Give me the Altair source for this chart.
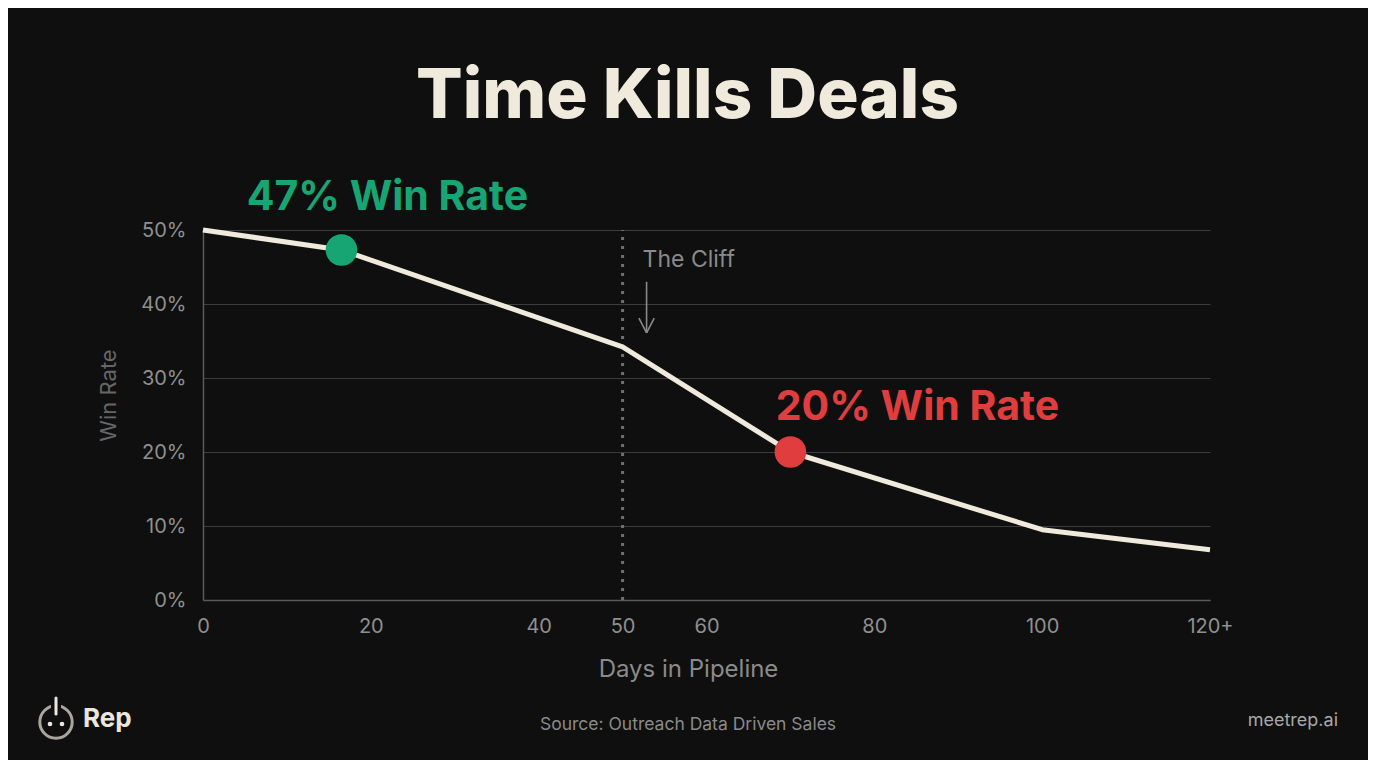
import altair as alt
import pandas as pd

# ---- data ----
days = [0, 16.5, 50, 70, 100, 120]
win_rate = [50, 47.3, 34.2, 20, 9.5, 6.8]

hl_days = [16.5, 70]
hl_rate = [47.3, 20]
hl_label = ["47% Win Rate", "20% Win Rate"]
hl_color = ["#17a673", "#e03e3e"]

x_ticks = [0, 20, 40, 50, 60, 80, 100, 120]
y_ticks = [0, 10, 20, 30, 40, 50]

cliff_day = 50
cliff_label = "The Cliff"

BG = "#0f0f0f"
CREAM = "#efeadc"
FONT = "Inter"

line_df = pd.DataFrame({"days": days, "rate": win_rate})
hl_df = pd.DataFrame({"days": hl_days, "rate": hl_rate, "label": hl_label, "color": hl_color})

xscale = alt.Scale(domain=[0, 120], nice=False, zero=True)
yscale = alt.Scale(domain=[0, 50], nice=False)

x_enc = alt.X("days:Q", scale=xscale, axis=alt.Axis(
    values=x_ticks, title="Days in Pipeline", grid=False, ticks=False,
    labelExpr="datum.value == 120 ? '120+' : datum.value",
    labelFontSize=20, labelColor="#8f8f8f", labelFont=FONT, labelPadding=16,
    labelFlush=False,
    domainColor="#5a5a5a", domainWidth=1.5,
    titleFontSize=24, titleColor="#8a8a8a", titleFont=FONT, titleFontWeight="normal",
    titleX=485, titleY=69, titleBaseline="middle", titleAnchor="middle"))
y_enc = alt.Y("rate:Q", scale=yscale, axis=alt.Axis(
    values=y_ticks, title="Win Rate", format=".0f", labelExpr="datum.value + '%'",
    grid=True, gridColor="#3c3c3c", gridWidth=1.2, ticks=False,
    labelFontSize=20, labelColor="#8f8f8f", labelFont=FONT, labelPadding=17,
    domainColor="#5a5a5a", domainWidth=1.5,
    titleFontSize=22, titleColor="#666666", titleFont=FONT, titleFontWeight="normal",
    titleX=-95, titleY=165, titleBaseline="middle", titleAngle=270))

base = alt.Chart(line_df)

cliff_df = pd.DataFrame({"days": [cliff_day], "y0": [0], "y1": [50]})
cliff_rule = alt.Chart(cliff_df).mark_rule(color="#707070", strokeWidth=3, strokeDash=[3, 6]).encode(
    x=alt.X("days:Q", scale=xscale), y=alt.Y("y0:Q", scale=yscale), y2="y1:Q")

cliff_txt = alt.Chart(pd.DataFrame({"days": [cliff_day], "rate": [45.9], "t": [cliff_label]})).mark_text(
    align="left", baseline="middle", dx=20, fontSize=23, font=FONT, color="#8a8a8a").encode(
    x=alt.X("days:Q", scale=xscale), y=alt.Y("rate:Q", scale=yscale), text="t:N")

arrow_df = pd.DataFrame({
    "x": [52.86, 52.86, 52.86], "x2": [52.86, 51.95, 53.77],
    "y": [43.0, 36.1, 36.1], "y2": [36.1, 38.1, 38.1]})
arrow = alt.Chart(arrow_df).mark_rule(color="#8a8a8a", strokeWidth=1.6).encode(
    x=alt.X("x:Q", scale=xscale), x2="x2:Q", y=alt.Y("y:Q", scale=yscale), y2="y2:Q")

line = base.mark_line(color=CREAM, strokeWidth=5, strokeJoin="round").encode(x=x_enc, y=y_enc)

pts = alt.Chart(hl_df).mark_circle(size=1000, opacity=1).encode(
    x=alt.X("days:Q", scale=xscale), y=alt.Y("rate:Q", scale=yscale),
    color=alt.Color("color:N", scale=None))

lab_g = alt.Chart(hl_df.iloc[[0]]).mark_text(
    fontSize=41, fontWeight="bold", font=FONT, color=hl_color[0], dx=46, dy=-52).encode(
    x=alt.X("days:Q", scale=xscale), y=alt.Y("rate:Q", scale=yscale), text="label:N")
lab_r = alt.Chart(hl_df.iloc[[1]]).mark_text(
    fontSize=41, fontWeight="bold", font=FONT, color=hl_color[1], dx=127, dy=-44).encode(
    x=alt.X("days:Q", scale=xscale), y=alt.Y("rate:Q", scale=yscale), text="label:N")

# footer (pixel positions relative to plot origin)
src = alt.Chart(pd.DataFrame({"t": ["Source: Outreach Data Driven Sales"]})).mark_text(
    fontSize=17.5, font=FONT, color="#8a8a8a", align="center", baseline="middle").encode(
    x=alt.value(485), y=alt.value(495), text="t:N")
site = alt.Chart(pd.DataFrame({"t": ["meetrep.ai"]})).mark_text(
    fontSize=18, font=FONT, color="#a8a8a8", align="right", baseline="middle").encode(
    x=alt.value(1135), y=alt.value(491), text="t:N")
rep = alt.Chart(pd.DataFrame({"t": ["Rep"]})).mark_text(
    fontSize=26, font=FONT, fontWeight="bold", color="#ebe7dc", align="left", baseline="middle").encode(
    x=alt.value(-120), y=alt.value(489), text="t:N")
icon_ring = alt.Chart(pd.DataFrame({"a": [0]})).mark_point(
    shape="circle", size=1050, filled=False, strokeWidth=3, color="#ebe7dc").encode(
    x=alt.value(-147), y=alt.value(492))
icon_gap = alt.Chart(pd.DataFrame({"a": [0]})).mark_rule(color=BG, strokeWidth=10).encode(
    x=alt.value(-147), y=alt.value(470), y2=alt.value(478))
icon_bar = alt.Chart(pd.DataFrame({"a": [0]})).mark_rule(color="#ebe7dc", strokeWidth=3, strokeCap="round").encode(
    x=alt.value(-147), y=alt.value(468), y2=alt.value(484))
icon_dots = alt.Chart(pd.DataFrame({"xx": [-153, -141]})).mark_circle(size=22, color="#ebe7dc", opacity=1).encode(
    x=alt.X("xx:Q", scale=None), y=alt.value(494))

chart = alt.layer(
    cliff_rule, line, arrow, cliff_txt, pts, lab_g, lab_r,
    src, site, rep, icon_ring, icon_gap, icon_bar, icon_dots
).properties(
    width=1007, height=370,
    padding={"left": 195, "top": 222, "right": 158, "bottom": 160},
    autosize=alt.AutoSizeParams(type="none"),
    background=BG,
    title=alt.Title("Time Kills Deals", fontSize=69, font=FONT, fontWeight=800,
                    color=CREAM, anchor="middle", offset=45, dx=-19),
).configure_view(stroke=None).configure_axis(labelFontWeight="normal")

chart.save("out.html", embed_options={"renderer": "svg", "actions": False})
